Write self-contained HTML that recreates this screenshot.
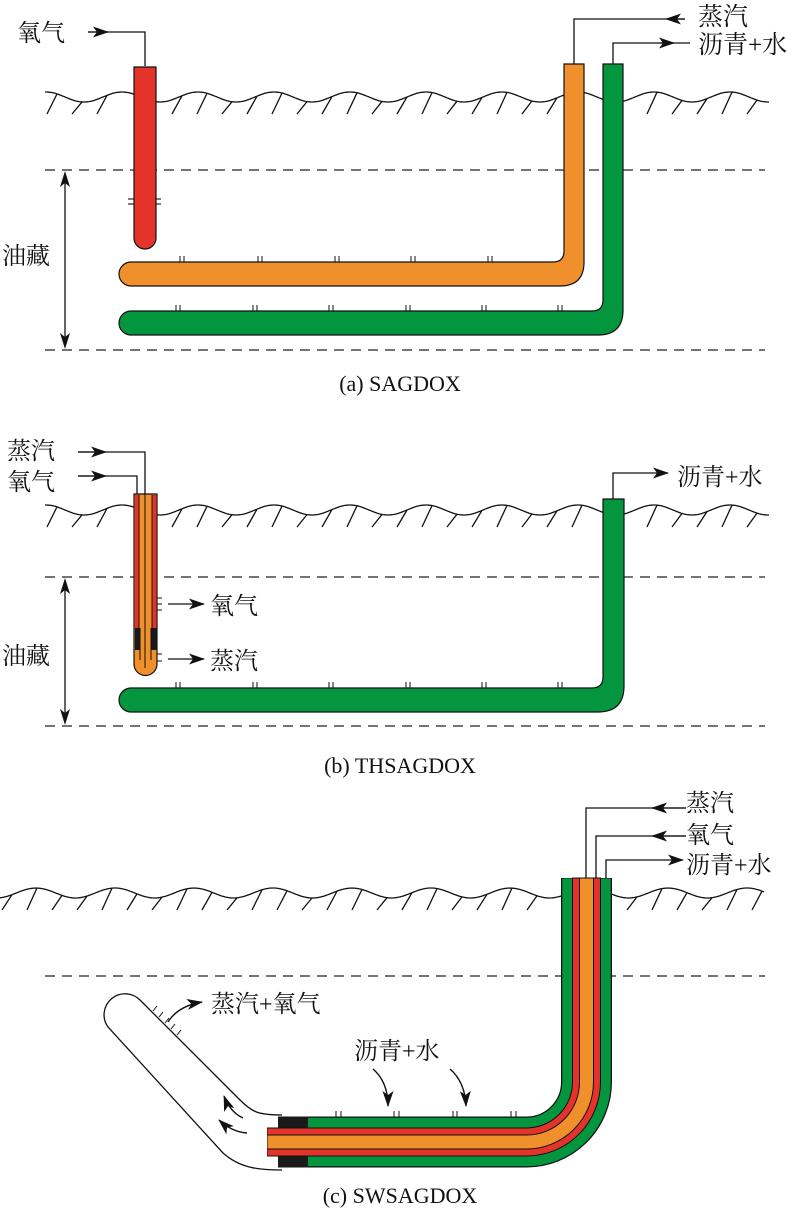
<!DOCTYPE html>
<html><head><meta charset="utf-8">
<style>
html,body{margin:0;padding:0;background:#fff;}
svg{display:block;}
text{font-family:"Liberation Serif","Noto Serif CJK SC","Noto Sans CJK SC",serif;fill:#111;}
</style></head>
<body>
<svg id="s" width="800" height="1218" viewBox="0 0 800 1218" xmlns="http://www.w3.org/2000/svg">
<defs>
<marker id="ah" markerWidth="16" markerHeight="12" refX="15" refY="6" orient="auto" markerUnits="userSpaceOnUse">
<path d="M0,0.5 L16,6 L0,11.5 L4,6 Z" fill="#111"/>
</marker>
</defs>
<g id="grounds" stroke="#111" stroke-width="1.3" fill="none"></g>

<!-- dashed lines -->
<g stroke="#222" stroke-width="1.3" stroke-dasharray="10,7">
<line x1="45" y1="170" x2="765" y2="170"/>
<line x1="45" y1="350" x2="765" y2="350"/>
<line x1="45" y1="577" x2="765" y2="577"/>
<line x1="45" y1="726" x2="765" y2="726"/>
<line x1="45" y1="976" x2="765" y2="976"/>
</g>

<!-- ===== Panel a ===== -->
<path d="M145 66 V32 H88" stroke="#111" stroke-width="1.3" fill="none"/>
<line x1="88" y1="32" x2="108" y2="32" stroke="#111" stroke-width="1.3" marker-end="url(#ah)"/>
<text x="17" y="41" font-size="24">氧气</text>
<path d="M134 67 H156 V238 A11 11 0 0 1 134 238 Z" fill="#e4332b" stroke="#111" stroke-width="1.2"/>
<g stroke="#111" stroke-width="1.1"><line x1="128" y1="199" x2="134" y2="199"/><line x1="128" y1="204" x2="134" y2="204"/><line x1="156" y1="199" x2="161" y2="199"/><line x1="156" y1="204" x2="161" y2="204"/></g>

<path d="M574 64 V19 H685" stroke="#111" stroke-width="1.3" fill="none"/>
<line x1="685" y1="19" x2="666" y2="19" stroke="#111" stroke-width="1.3" marker-end="url(#ah)"/>
<text x="698" y="25" font-size="25">蒸汽</text>
<path d="M613 64 V43 H690" stroke="#111" stroke-width="1.3" fill="none"/>
<line x1="660" y1="43" x2="674" y2="43" stroke="#111" stroke-width="1.3" marker-end="url(#ah)"/>
<text x="698" y="53" font-size="25">沥青+水</text>

<path d="M564 64 H584 V262 Q584 286 560 286 H131 A12 12 0 0 1 131 262 H553 Q564 262 564 251 Z" fill="#f0902c" stroke="#111" stroke-width="1.2"/>
<path d="M603 64 H623 V310 Q623 335 598 335 H131 A12 12 0 0 1 131 311 H592 Q603 311 603 300 Z" fill="#03963f" stroke="#111" stroke-width="1.2"/>
<g id="ticksA" stroke="#111" stroke-width="1"></g>

<line x1="65" y1="180" x2="65" y2="340" stroke="#111" stroke-width="1.3"/>
<path d="M65 171 l-5 16 l5 -4 l5 4 Z M65 349 l-5 -16 l5 4 l5 -4 Z" fill="#111"/>
<text x="2" y="264" font-size="24">油藏</text>
<text x="400" y="391" font-size="22" text-anchor="middle">(a) SAGDOX</text>

<!-- ===== Panel b ===== -->
<path d="M145 494 V452 H78" stroke="#111" stroke-width="1.3" fill="none"/>
<line x1="78" y1="452" x2="106" y2="452" stroke="#111" stroke-width="1.3" marker-end="url(#ah)"/>
<path d="M137 494 V476 H78" stroke="#111" stroke-width="1.3" fill="none"/>
<line x1="78" y1="476" x2="106" y2="476" stroke="#111" stroke-width="1.3" marker-end="url(#ah)"/>
<text x="7" y="459" font-size="24">蒸汽</text>
<text x="7" y="490" font-size="24">氧气</text>

<path d="M134 494 H157 V664 A11.5 11.5 0 0 1 134 664 Z" fill="#f0902c" stroke="#111" stroke-width="1.2"/>
<rect x="135" y="495" width="4" height="133" fill="#e4332b"/>
<rect x="152" y="495" width="4.5" height="133" fill="#e4332b"/>
<rect x="135" y="628" width="5" height="22" fill="#1a1a1a"/>
<rect x="151" y="628" width="5.5" height="22" fill="#1a1a1a"/>
<g stroke="#111" stroke-width="1"><line x1="139" y1="495" x2="139" y2="628"/><line x1="152" y1="495" x2="152" y2="628"/><line x1="145" y1="494" x2="145" y2="668"/><line x1="140" y1="628" x2="140" y2="660"/><line x1="151" y1="628" x2="151" y2="660"/>
<line x1="157" y1="598" x2="162" y2="598"/><line x1="157" y1="604" x2="162" y2="604"/><line x1="157" y1="610" x2="162" y2="610"/>
<line x1="157" y1="654" x2="162" y2="654"/><line x1="157" y1="661" x2="162" y2="661"/></g>
<line x1="168" y1="604" x2="204" y2="604" stroke="#111" stroke-width="1.3" marker-end="url(#ah)"/>
<line x1="168" y1="659" x2="204" y2="659" stroke="#111" stroke-width="1.3" marker-end="url(#ah)"/>
<text x="210" y="614" font-size="24">氧气</text>
<text x="210" y="669" font-size="24">蒸汽</text>

<path d="M613 499 V473 H668" stroke="#111" stroke-width="1.3" fill="none" marker-end="url(#ah)"/>
<text x="677" y="485" font-size="24">沥青+水</text>
<path d="M603 499 H624 V686 Q624 712 598 712 H131 A12 12 0 0 1 131 688 H592 Q603 688 603 677 Z" fill="#03963f" stroke="#111" stroke-width="1.2"/>
<g id="ticksB" stroke="#111" stroke-width="1"></g>

<line x1="65" y1="587" x2="65" y2="716" stroke="#111" stroke-width="1.3"/>
<path d="M65 578 l-5 16 l5 -4 l5 4 Z M65 725 l-5 -16 l5 4 l5 -4 Z" fill="#111"/>
<text x="2" y="664" font-size="24">油藏</text>
<text x="400" y="773" font-size="22" text-anchor="middle">(b) THSAGDOX</text>

<!-- ===== Panel c ===== -->
<path d="M586 878 V808 H686" stroke="#111" stroke-width="1.3" fill="none"/>
<line x1="686" y1="808" x2="652" y2="808" stroke="#111" stroke-width="1.3" marker-end="url(#ah)"/>
<path d="M596 878 V836 H686" stroke="#111" stroke-width="1.3" fill="none"/>
<line x1="686" y1="836" x2="652" y2="836" stroke="#111" stroke-width="1.3" marker-end="url(#ah)"/>
<path d="M606 878 V860 H683" stroke="#111" stroke-width="1.3" fill="none" marker-end="url(#ah)"/>
<text x="686" y="811" font-size="24">蒸汽</text>
<text x="686" y="843" font-size="24">氧气</text>
<text x="686" y="873" font-size="24">沥青+水</text>

<!-- white tube -->
<path d="M282 1115 C258 1115 252 1112 240 1100 L140 1000 A21 21 0 0 0 108 1027 L223 1153 C240 1168 258 1170 282 1170" fill="#fff" stroke="#111" stroke-width="1.3"/>
<g stroke="#111" stroke-width="1"><line x1="153" y1="1011" x2="157" y2="1006"/><line x1="159" y1="1017" x2="163" y2="1012"/><line x1="165" y1="1023" x2="169" y2="1018"/><line x1="171" y1="1029" x2="175" y2="1024"/><line x1="177" y1="1035" x2="181" y2="1030"/></g>
<path d="M168 1022 Q178 1006 202 1002" stroke="#111" stroke-width="1.4" fill="none" marker-end="url(#ah)"/>
<text x="211" y="1012" font-size="24">蒸汽+氧气</text>
<path d="M243 1118 Q230 1112 224 1096" stroke="#111" stroke-width="1.4" fill="none" marker-end="url(#ah)"/>
<path d="M247 1133 Q232 1132 219 1120" stroke="#111" stroke-width="1.4" fill="none" marker-end="url(#ah)"/>
<text x="354" y="1059" font-size="24">沥青+水</text>
<path d="M373 1069 Q388 1082 388 1106" stroke="#111" stroke-width="1.4" fill="none" marker-end="url(#ah)"/>
<path d="M450 1069 Q465 1082 466 1106" stroke="#111" stroke-width="1.4" fill="none" marker-end="url(#ah)"/>

<!-- multi-layer pipe -->
<g fill="none" stroke-linejoin="round">
<path d="M586.5 878 V1082 A60 60 0 0 1 526.5 1142 H278" stroke="#111" stroke-width="51"/>
<path d="M586.5 878.5 V1082 A60 60 0 0 1 526.5 1142 H278" stroke="#03963f" stroke-width="48.5"/>
<path d="M586.5 877.5 V1082 A60 60 0 0 1 526.5 1142 H267" stroke="#111" stroke-width="29"/>
<path d="M586.5 878.5 V1082 A60 60 0 0 1 526.5 1142 H267.5" stroke="#e4332b" stroke-width="27"/>
<path d="M586.5 877.5 V1082 A60 60 0 0 1 526.5 1142 H267" stroke="#111" stroke-width="15"/>
<path d="M586.5 878.5 V1082 A60 60 0 0 1 526.5 1142 H267.5" stroke="#f0902c" stroke-width="13"/>
</g>
<rect x="278" y="1116.5" width="30" height="11" fill="#1a1a1a"/>
<rect x="278" y="1156.5" width="30" height="11" fill="#1a1a1a"/>
<g stroke="#111" stroke-width="1"><line x1="336" y1="1111" x2="336" y2="1117"/><line x1="341" y1="1111" x2="341" y2="1117"/><line x1="394" y1="1111" x2="394" y2="1117"/><line x1="399" y1="1111" x2="399" y2="1117"/><line x1="453" y1="1111" x2="453" y2="1117"/><line x1="457" y1="1111" x2="457" y2="1117"/><line x1="511" y1="1111" x2="511" y2="1117"/><line x1="516" y1="1111" x2="516" y2="1117"/></g>
<text x="400" y="1203" font-size="22" text-anchor="middle">(c) SWSAGDOX</text>
</svg>
<script>
(function(){
var NS="http://www.w3.org/2000/svg";
var g=document.getElementById('grounds');
function ground(y0,xs,xe,peak,per,gaps){
  var d="",h="";
  for(var x=xs;x<=xe;x+=2){
    var y=y0-5*Math.cos(2*Math.PI*(x-peak)/per);
    d+=(x==xs?"M":"L")+x+" "+y.toFixed(1)+" ";
  }
  for(var x=xs+12;x<=xe;x+=25){
    var skip=false;gaps.forEach(function(q){if(x>q[0]-4&&x<q[1]+12)skip=true;});
    if(skip)continue;
    var y=y0-5*Math.cos(2*Math.PI*(x-peak)/per);
    h+="M"+x+" "+y.toFixed(1)+" L"+(x-10)+" "+(y0+17)+" ";
  }
  var p=document.createElementNS(NS,"path");p.setAttribute("d",d+h);g.appendChild(p);
}
ground(97,45,770,122,76,[[134,157],[564,623]]);
ground(510,45,770,122,76,[[134,157],[603,624]]);
ground(893,0,765,194,79,[[562,611]]);
function ticks(id,xs,y){
  var t=document.getElementById(id),s="";
  xs.forEach(function(x){s+="M"+x+" "+y+" v-6 M"+(x+4)+" "+y+" v-6 ";});
  var p=document.createElementNS(NS,"path");p.setAttribute("d",s);t.appendChild(p);
}
ticks("ticksA",[180,258,335,411,488],262);
ticks("ticksA",[176,253,329,406,482,558],311);
ticks("ticksB",[176,253,329,406,482,558],688);
})();
</script>
</body></html>
